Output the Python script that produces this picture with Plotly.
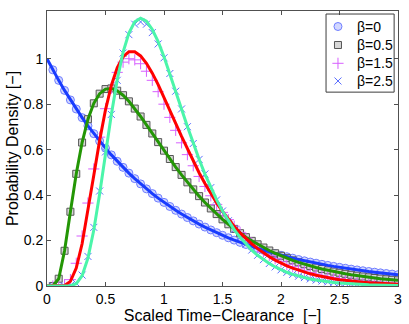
import plotly.graph_objects as go

# ---------------- data ----------------
x_line = [0.00, 0.05, 0.10, 0.15, 0.20, 0.25, 0.30, 0.35, 0.40, 0.45,
          0.50, 0.55, 0.60, 0.65, 0.70, 0.75, 0.80, 0.85, 0.90, 0.95,
          1.00, 1.05, 1.10, 1.15, 1.20, 1.25, 1.30, 1.35, 1.40, 1.45,
          1.50, 1.55, 1.60, 1.65, 1.70, 1.75, 1.80, 1.85, 1.90, 1.95,
          2.00, 2.05, 2.10, 2.15, 2.20, 2.25, 2.30, 2.35, 2.40, 2.45,
          2.50, 2.55, 2.60, 2.65, 2.70, 2.75, 2.80, 2.85, 2.90, 2.95, 3.00]

line_b0 = [1.0000, 0.9512, 0.9048, 0.8607, 0.8187, 0.7788, 0.7408, 0.7047, 0.6703, 0.6376,
           0.6065, 0.5769, 0.5488, 0.5220, 0.4966, 0.4724, 0.4493, 0.4274, 0.4066, 0.3867,
           0.3679, 0.3499, 0.3329, 0.3166, 0.3012, 0.2865, 0.2725, 0.2592, 0.2466, 0.2346,
           0.2231, 0.2122, 0.2019, 0.1920, 0.1827, 0.1738, 0.1653, 0.1572, 0.1496, 0.1423,
           0.1353, 0.1287, 0.1225, 0.1165, 0.1108, 0.1054, 0.1003, 0.0954, 0.0907, 0.0863,
           0.0821, 0.0781, 0.0743, 0.0707, 0.0672, 0.0639, 0.0608, 0.0578, 0.0550, 0.0523, 0.0498]

line_b05 = [0.0000, 0.0002, 0.0320, 0.1550, 0.3268, 0.4937, 0.6313, 0.7339, 0.8039, 0.8463,
            0.8665, 0.8694, 0.8593, 0.8395, 0.8125, 0.7807, 0.7458, 0.7089, 0.6711, 0.6331,
            0.5955, 0.5588, 0.5232, 0.4889, 0.4561, 0.4249, 0.3954, 0.3674, 0.3412, 0.3164,
            0.2933, 0.2716, 0.2514, 0.2325, 0.2149, 0.1986, 0.1834, 0.1693, 0.1562, 0.1441,
            0.1329, 0.1225, 0.1129, 0.1040, 0.0958, 0.0882, 0.0812, 0.0748, 0.0688, 0.0633,
            0.0583, 0.0536, 0.0493, 0.0453, 0.0417, 0.0383, 0.0352, 0.0324, 0.0297, 0.0273, 0.0251]

line_b15 = [0.0000, 0.0000, 0.0000, 0.0019, 0.0203, 0.0789, 0.1858, 0.3291, 0.4873, 0.6407,
            0.7751, 0.8824, 0.9600, 1.0085, 1.0308, 1.0307, 1.0123, 0.9797, 0.9366, 0.8863,
            0.8313, 0.7738, 0.7158, 0.6583, 0.6024, 0.5489, 0.4983, 0.4507, 0.4065, 0.3656,
            0.3280, 0.2936, 0.2623, 0.2339, 0.2082, 0.1851, 0.1643, 0.1456, 0.1290, 0.1141,
            0.1008, 0.0890, 0.0785, 0.0691, 0.0609, 0.0536, 0.0471, 0.0414, 0.0364, 0.0320,
            0.0280, 0.0246, 0.0215, 0.0189, 0.0165, 0.0145, 0.0127, 0.0111, 0.0097, 0.0085, 0.0074]

line_b25 = [0.0000, 0.0000, 0.0000, 0.0000, 0.0010, 0.0104, 0.0453, 0.1226, 0.2463, 0.4058,
            0.5820, 0.7545, 0.9067, 1.0280, 1.1134, 1.1624, 1.1780, 1.1649, 1.1286, 1.0749,
            1.0088, 0.9350, 0.8574, 0.7787, 0.7015, 0.6274, 0.5575, 0.4926, 0.4330, 0.3790,
            0.3303, 0.2868, 0.2482, 0.2141, 0.1842, 0.1581, 0.1353, 0.1156, 0.0986, 0.0839,
            0.0713, 0.0605, 0.0512, 0.0433, 0.0366, 0.0309, 0.0260, 0.0219, 0.0184, 0.0155,
            0.0130, 0.0109, 0.0092, 0.0077, 0.0064, 0.0054, 0.0045, 0.0038, 0.0031, 0.0026, 0.0022]

# marker series (x = 0.05 ... 3.00)
x_mark = x_line[1:]

mark_b0 = line_b0[1:]
mark_b05 = line_b05[1:]

mark_b15 = [0.000, 0.001, 0.006, 0.028, 0.100, 0.220, 0.365, 0.515, 0.655, 0.780,
            0.870, 0.940, 0.985, 1.000, 0.995, 0.978, 0.945, 0.905, 0.855, 0.800,
            0.742, 0.685, 0.630, 0.578, 0.529, 0.482, 0.438, 0.397, 0.359, 0.324,
            0.292, 0.263, 0.236, 0.211, 0.189, 0.169, 0.151, 0.135, 0.120, 0.107,
            0.095, 0.085, 0.075, 0.067, 0.059, 0.053, 0.047, 0.041, 0.037, 0.032,
            0.029, 0.025, 0.022, 0.020, 0.018, 0.016, 0.014, 0.012, 0.011, 0.009]

mark_b25 = [0.000, 0.000, 0.000, 0.002, 0.012, 0.048, 0.130, 0.258, 0.418, 0.590,
            0.755, 0.905, 1.025, 1.106, 1.152, 1.162, 1.152, 1.115, 1.065, 1.004,
            0.935, 0.857, 0.779, 0.701, 0.627, 0.557, 0.493, 0.433, 0.379, 0.330,
            0.287, 0.248, 0.214, 0.184, 0.158, 0.135, 0.116, 0.099, 0.084, 0.071,
            0.060, 0.051, 0.043, 0.037, 0.031, 0.026, 0.022, 0.018, 0.015, 0.013,
            0.011, 0.009, 0.008, 0.006, 0.005, 0.005, 0.004, 0.003, 0.003, 0.002]

legend_names = ["β=0", "β=0.5", "β=1.5", "β=2.5"]
x_ticks = [0, 0.5, 1, 1.5, 2, 2.5, 3]
x_ticktext = ["0", "0.5", "1", "1.5", "2", "2.5", "3"]
y_ticks = [0, 0.2, 0.4, 0.6, 0.8, 1]
y_ticktext = ["0", "0.2", "0.4", "0.6", "0.8", "1"]

# ---------------- styles ----------------
FONT = "Liberation Sans, Arial, Helvetica, sans-serif"
marker_styles = [
    dict(symbol="circle", size=8, color="rgba(195,202,255,0.75)",
         line=dict(color="rgb(110,125,255)", width=1)),
    dict(symbol="square", size=7, color="rgb(215,215,215)",
         line=dict(color="rgb(85,85,85)", width=1)),
    dict(symbol="cross-thin", size=8, line=dict(color="rgb(215,95,255)", width=1)),
    dict(symbol="x-thin", size=7, line=dict(color="rgb(90,110,255)", width=1)),
]
line_colors = ["rgb(25,60,255)", "rgb(35,150,5)", "rgb(255,0,0)", "rgb(75,245,170)"]

fig = go.Figure()

# data markers
for ys, name, ms in zip([mark_b0, mark_b05, mark_b15, mark_b25], legend_names, marker_styles):
    fig.add_trace(go.Scatter(x=x_mark, y=ys, mode="markers", name=name,
                             showlegend=False, marker=ms))

# theory lines on top
for ys, col in zip([line_b0, line_b05, line_b15, line_b25], line_colors):
    fig.add_trace(go.Scatter(x=x_line, y=ys, mode="lines", showlegend=False,
                             hoverinfo="skip", line=dict(color=col, width=3)))

# legend box drawn in plot-fraction coordinates (overlay axes 0..1)
leg_left, leg_right, leg_top, leg_bottom = 0.795, 0.989, 0.989, 0.705
leg_sym_x, leg_text_x = 0.829, 0.877
leg_rows = [0.9436, 0.8764, 0.8098, 0.7455]
for ms, yy, name in zip(marker_styles, leg_rows, legend_names):
    fig.add_trace(go.Scatter(x=[leg_sym_x], y=[yy], xaxis="x2", yaxis="y2",
                             mode="markers", marker=ms, showlegend=False,
                             hoverinfo="skip"))
    fig.add_annotation(x=leg_text_x, y=yy, xref="paper", yref="paper",
                       text=name, showarrow=False, xanchor="left", yanchor="middle",
                       font=dict(family=FONT, size=14, color="black"))
fig.add_shape(type="rect", xref="paper", yref="paper",
              x0=leg_left, x1=leg_right, y0=leg_bottom, y1=leg_top,
              line=dict(color="rgb(60,60,60)", width=1), fillcolor="rgba(0,0,0,0)")

axis_common = dict(
    showline=True, linecolor="rgb(80,80,80)", linewidth=1, mirror="ticks",
    ticks="inside", ticklen=4, tickcolor="rgb(80,80,80)", tickwidth=1,
    showgrid=False, zeroline=False, automargin=False,
    tickfont=dict(family=FONT, size=14, color="black"),
)

fig.update_layout(
    width=409, height=324,
    margin=dict(l=47, r=11, t=11, b=38),
    paper_bgcolor="white", plot_bgcolor="white",
    font=dict(family=FONT, size=14, color="black"),
    xaxis=dict(range=[0, 3], tickvals=x_ticks, ticktext=x_ticktext,
               title=dict(text="Scaled Time\u2212Clearance\u00a0\u00a0[\u2212]",
                          font=dict(family=FONT, size=16), standoff=1),
               **axis_common),
    yaxis=dict(range=[0, 1.21], tickvals=y_ticks, ticktext=y_ticktext,
               title=dict(text="Probability Density [\u2212]",
                          font=dict(family=FONT, size=16), standoff=1),
               **axis_common),
    xaxis2=dict(overlaying="x", range=[0, 1], visible=False, fixedrange=True),
    yaxis2=dict(overlaying="y", range=[0, 1], visible=False, fixedrange=True),
    showlegend=False,
)

# remove the default page margin so the 409x324 figure fills the window exactly
fig.write_html("out.html",
               config={"displayModeBar": False, "staticPlot": True},
               post_script="document.body.style.margin='0';document.body.style.overflow='hidden';")
